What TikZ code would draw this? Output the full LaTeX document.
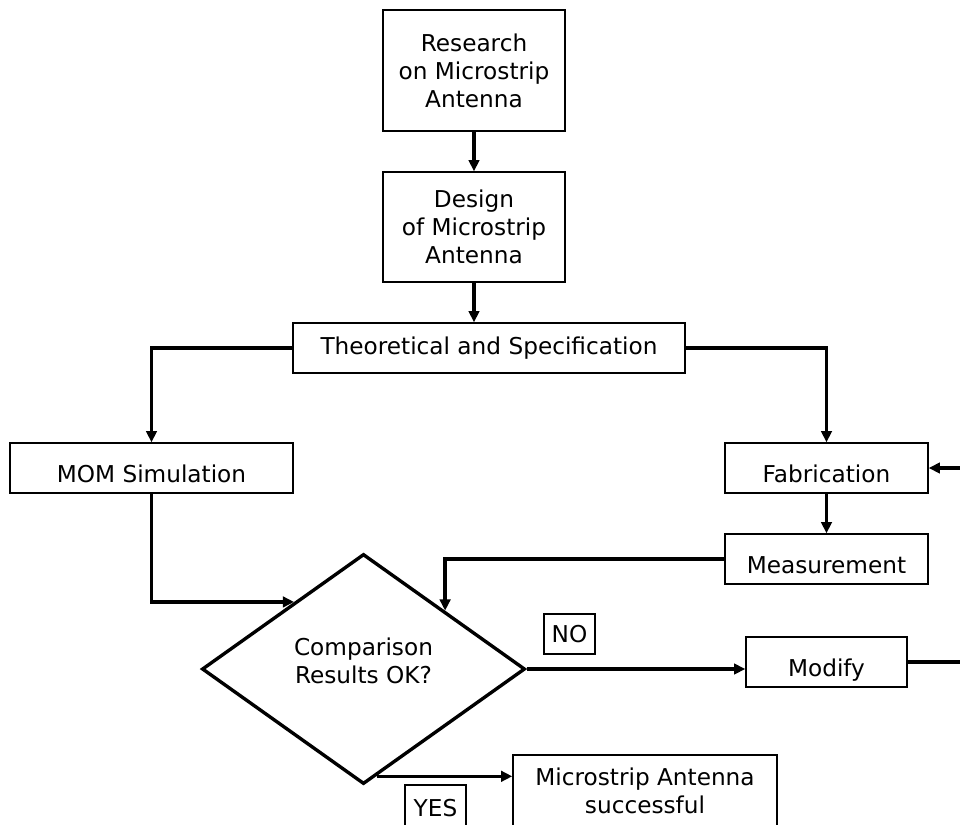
\documentclass[tikz,border=0pt]{standalone}
\usepackage{fontspec}
\setmainfont{DejaVu Sans}
\usetikzlibrary{arrows.meta,shapes.geometric}

\begin{document}
\begin{tikzpicture}[x=0.025cm, y=-0.025cm,
    box/.style={draw, line width=1pt, inner sep=0pt, align=center, font=\fontsize{16.5pt}{20pt}\selectfont},
    low/.style={text height=21pt, text depth=0pt},
    flow/.style={line width=2.4pt, -{Triangle[length=8pt,width=7.5pt]}}]

    \useasboundingbox (0,0) rectangle (960,824);

    % Nodes
    \node (research) [box, minimum width=4.55cm, minimum height=3.025cm] at (474,70.5) {Research\\on Microstrip\\Antenna};
    \node (design) [box, minimum width=4.55cm, minimum height=2.75cm] at (474,227) {Design\\of Microstrip\\Antenna};
    \node (theory) [box, minimum width=9.8cm, minimum height=1.25cm] at (489,348) {Theoretical and Specification};
    \node (mom) [box, low, minimum width=7.075cm, minimum height=1.25cm] at (151.5,468) {MOM Simulation};
    \node (fab) [box, low, minimum width=5.075cm, minimum height=1.25cm] at (826.5,468) {Fabrication};
    \node (meas) [box, low, minimum width=5.075cm, minimum height=1.25cm] at (826.5,559) {Measurement};
    \node (modify) [box, low, minimum width=4.025cm, minimum height=1.25cm] at (826.5,662) {Modify};

    % Decision
    \node (cmp) [box, diamond, line width=2.4pt, text height=32pt, text depth=11pt, minimum width=8.075cm, minimum height=5.75cm] at (363.5,669) {Comparison\\Results OK?};
    \node (no) [box, minimum width=1.275cm, minimum height=1cm] at (569.5,634) {NO};
    \node (yes) [box, minimum width=1.525cm, minimum height=1.15cm] at (435.5,808) {YES};
    \node (success) [box, minimum width=6.6cm, minimum height=1.8cm] at (645,791) {Microstrip Antenna\\successful};

    % Arrows
    \draw[flow] (research) -- (design);
    \draw[flow] (design.south) -- (design.south |- theory.north);
    \draw[flow] (theory.west) -| (mom.north);
    \draw[flow] (theory.east) -| (fab.north);
    \draw[flow] (fab) -- (meas);
    \draw[flow] (mom.south) |- (cmp.136);
    \draw[flow] (meas.west) -| (cmp.north east);
    \draw[flow] (cmp.east) -- (cmp.east -| modify.west);
    \draw[flow] (modify.east) -- ++(55,0) |- (fab.east);
    \draw[flow] (cmp.-83) -- (cmp.-83 -| success.west);

\end{tikzpicture}
\end{document}
